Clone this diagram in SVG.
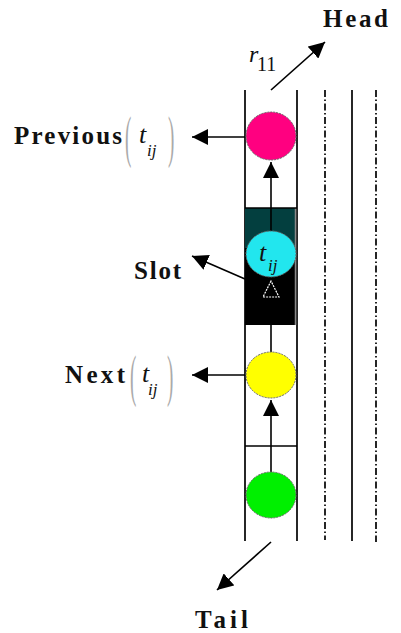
<svg xmlns="http://www.w3.org/2000/svg" width="401" height="633" viewBox="0 0 401 633">
  <style>
    .lane { stroke: #000; stroke-width: 1.7; fill: none; }
    .dashdot { stroke: #000; stroke-width: 1.7; fill: none; stroke-dasharray: 7 2.5 1.5 2.5; }
    .cell { stroke: #000; stroke-width: 1.5; fill: none; }
    .edge { stroke: #000; stroke-width: 1.6; fill: none; }
    .ball { stroke: #666; stroke-width: 1; stroke-dasharray: 2 1; }
    .lbl { font-family: "Liberation Serif", "Times New Roman", serif; font-weight: bold; font-size: 25px; fill: #111; }
    .math { font-family: "Liberation Serif", "Times New Roman", serif; font-style: italic; fill: #111; }
    .num { font-family: "Liberation Serif", "Times New Roman", serif; fill: #111; }
    .paren { font-family: "Liberation Serif", "Times New Roman", serif; fill: #aaa; }
  </style>
  <defs>
    <marker id="arrow" viewBox="0 0 16 16" refX="16" refY="8" markerWidth="16" markerHeight="16" markerUnits="userSpaceOnUse" orient="auto">
      <path d="M0,0 L16,8 L0,16 Z" fill="#000"/>
    </marker>
  </defs>

  <rect width="401" height="633" fill="#fff"/>

  <!-- queue lanes -->
  <g id="lanes">
    <line class="lane" x1="245" y1="90" x2="245" y2="541"/>
    <line class="lane" x1="297" y1="90" x2="297" y2="541"/>
    <line class="dashdot" x1="325" y1="90" x2="325" y2="540"/>
    <line class="lane" x1="352" y1="90" x2="352" y2="541"/>
    <line class="dashdot" x1="376" y1="90" x2="376" y2="542"/>
    <line class="cell" x1="245" y1="446" x2="297" y2="446"/>
  </g>

  <!-- slot block -->
  <g id="slot">
    <rect x="245" y="208" width="50" height="41" fill="#033f3f"/>
    <rect x="245" y="248" width="50" height="77" fill="#000"/>
    <line x1="295.5" y1="208" x2="295.5" y2="325" stroke="#888" stroke-width="1.5"/>
    <line class="cell" x1="245" y1="208" x2="297" y2="208"/>
  </g>

  <!-- connectors -->
  <g id="connectors">
    <line class="edge" x1="271" y1="232" x2="271" y2="162" marker-end="url(#arrow)"/>
    <line class="edge" x1="271" y1="352" x2="271" y2="325"/>
    <path d="M271,281 L263,297 L279,297 Z" fill="none" stroke="#fff" stroke-width="1.2" stroke-dasharray="2 1"/>
    <line class="edge" x1="271" y1="472" x2="271" y2="400" marker-end="url(#arrow)"/>
    <line class="edge" x1="245" y1="137" x2="192" y2="137" marker-end="url(#arrow)"/>
    <line class="edge" x1="245" y1="375" x2="192" y2="375" marker-end="url(#arrow)"/>
    <line class="edge" x1="245" y1="279" x2="192" y2="256" marker-end="url(#arrow)"/>
    <line class="edge" x1="271" y1="90" x2="325" y2="42" marker-end="url(#arrow)"/>
    <line class="edge" x1="271" y1="542" x2="217" y2="590" marker-end="url(#arrow)"/>
  </g>

  <!-- items in the queue -->
  <g id="previous-item">
    <ellipse class="ball" cx="271" cy="136" rx="25" ry="24" fill="#ff0080"/>
  </g>
  <g id="current-item">
    <ellipse class="ball" cx="271" cy="254" rx="25" ry="23" fill="#22e6ee"/>
    <text class="math" x="259" y="261" font-size="26">t</text>
    <text class="math" x="268" y="271" font-size="17">ij</text>
  </g>
  <g id="next-item">
    <ellipse class="ball" cx="271" cy="375" rx="25" ry="23" fill="#ffff00"/>
  </g>
  <g id="tail-item">
    <ellipse class="ball" cx="271" cy="495" rx="25" ry="23" fill="#00f000"/>
  </g>

  <!-- labels -->
  <g id="head-label">
    <text class="lbl" x="323" y="27" font-size="23" textLength="65" lengthAdjust="spacing">Head</text>
  </g>
  <g id="r11-label">
    <text class="math" x="249" y="62" font-size="24">r</text>
    <text class="num" x="257" y="71" font-size="20">11</text>
  </g>
  <g id="previous-label">
    <text class="lbl" x="14" y="144" textLength="108" lengthAdjust="spacing">Previous</text>
    <text class="paren" transform="translate(125,156) scale(0.5,1.5)" font-size="38">(</text>
    <text class="math" x="139" y="143" font-size="26">t</text>
    <text class="math" x="147" y="156" font-size="17">ij</text>
    <text class="paren" transform="translate(168,156) scale(0.5,1.5)" font-size="38">)</text>
  </g>
  <g id="slot-label">
    <text class="lbl" x="134" y="279" textLength="47" lengthAdjust="spacing">Slot</text>
  </g>
  <g id="next-label">
    <text class="lbl" x="65" y="383" textLength="60" lengthAdjust="spacing">Next</text>
    <text class="paren" transform="translate(130,395) scale(0.5,1.5)" font-size="38">(</text>
    <text class="math" x="142" y="382" font-size="26">t</text>
    <text class="math" x="148" y="395" font-size="17">ij</text>
    <text class="paren" transform="translate(167,395) scale(0.5,1.5)" font-size="38">)</text>
  </g>
  <g id="tail-label">
    <text class="lbl" x="195" y="628" textLength="53" lengthAdjust="spacing">Tail</text>
  </g>
</svg>
